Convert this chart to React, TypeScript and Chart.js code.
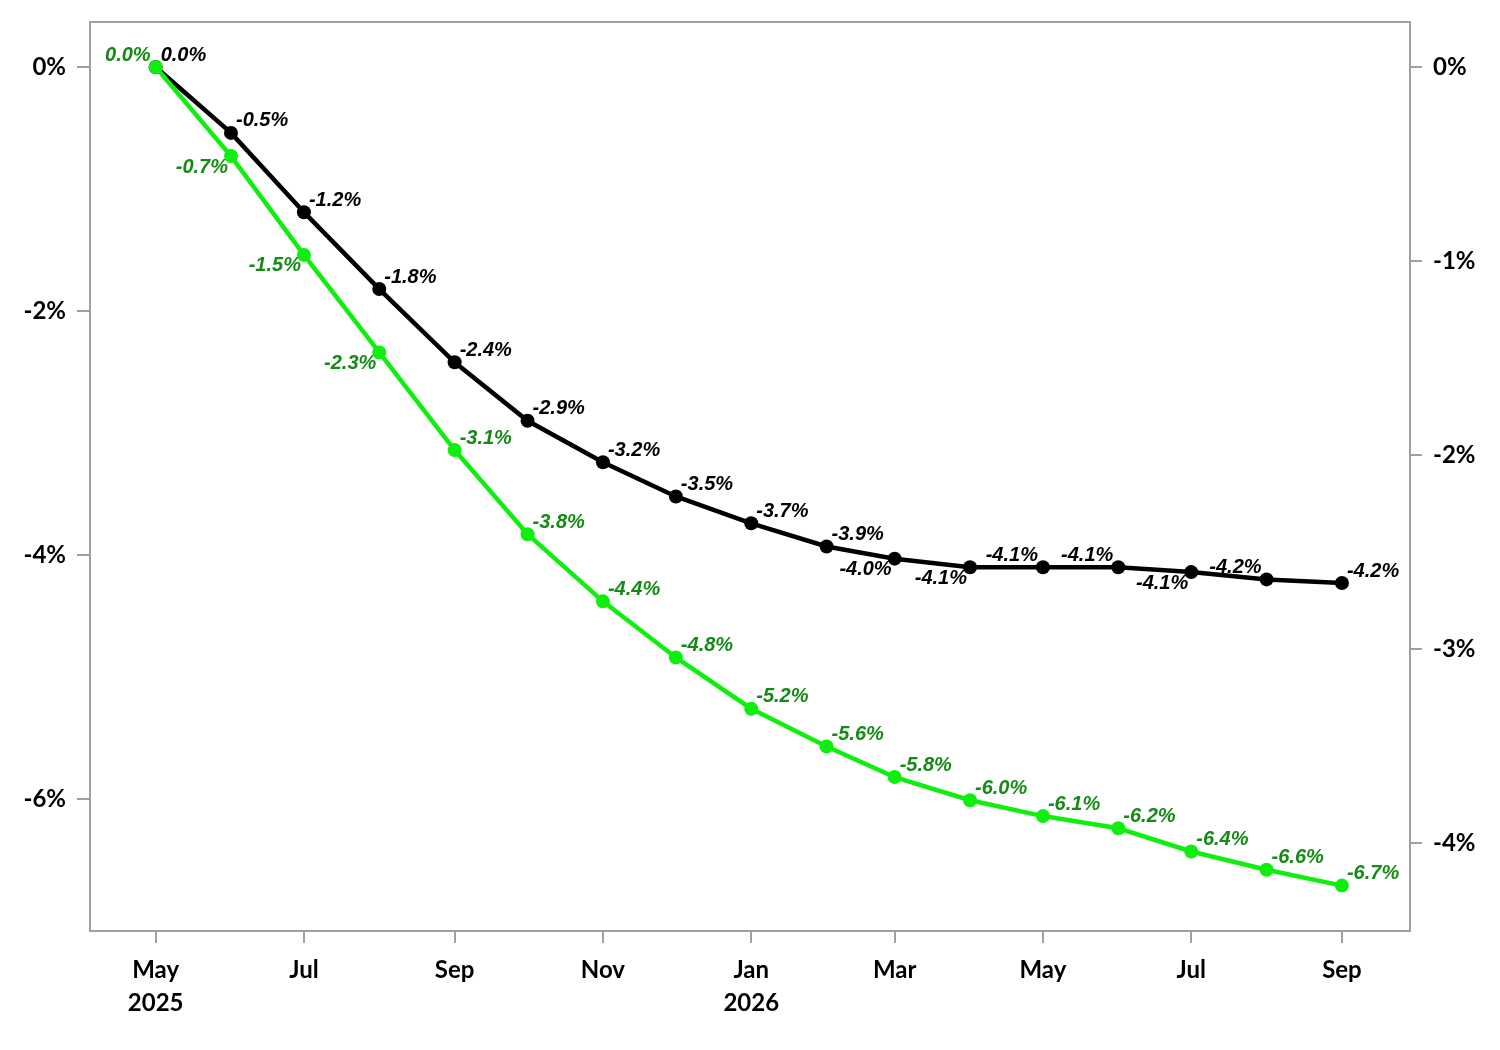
import React, { useEffect, useRef } from "react";
import { Chart, registerables } from "chart.js";

Chart.register(...registerables);

// ---- data ----
const monthDates = [
  "2025-05-01", "2025-06-01", "2025-07-01", "2025-08-01", "2025-09-01",
  "2025-10-01", "2025-11-01", "2025-12-01", "2026-01-01", "2026-02-01",
  "2026-03-01", "2026-04-01", "2026-05-01", "2026-06-01", "2026-07-01",
  "2026-08-01", "2026-09-01",
];
const greenValues = [
  0, -0.73, -1.54, -2.34, -3.14, -3.83, -4.38, -4.84, -5.26, -5.57, -5.82,
  -6.01, -6.14, -6.24, -6.43, -6.58, -6.71,
];
const greenLabels = [
  "0.0%", "-0.7%", "-1.5%", "-2.3%", "-3.1%", "-3.8%", "-4.4%", "-4.8%",
  "-5.2%", "-5.6%", "-5.8%", "-6.0%", "-6.1%", "-6.2%", "-6.4%", "-6.6%", "-6.7%",
];
const blackValues = [
  0, -0.54, -1.19, -1.82, -2.42, -2.9, -3.24, -3.52, -3.74, -3.93, -4.03,
  -4.1, -4.1, -4.1, -4.14, -4.2, -4.23,
];
const blackLabels = [
  "0.0%", "-0.5%", "-1.2%", "-1.8%", "-2.4%", "-2.9%", "-3.2%", "-3.5%",
  "-3.7%", "-3.9%", "-4.0%", "-4.1%", "-4.1%", "-4.1%", "-4.1%", "-4.2%", "-4.2%",
];
const xTickDates = [
  "2025-05-01", "2025-07-01", "2025-09-01", "2025-11-01", "2026-01-01",
  "2026-03-01", "2026-05-01", "2026-07-01", "2026-09-01",
];
const xTickLabels: (string | string[])[] = [
  ["May", "2025"], "Jul", "Sep", "Nov", ["Jan", "2026"], "Mar", "May", "Jul", "Sep",
];
const leftTicks = [0, -2, -4, -6];
const rightTicks = [0, -1, -2, -3, -4];

// label placement (style): ar = above-right, al = above-left, bl = below-left
const greenPlacement = ["al", "bl", "bl", "bl", "ar", "ar", "ar", "ar", "ar", "ar", "ar", "ar", "ar", "ar", "ar", "ar", "ar"];
const blackPlacement = ["ar", "ar", "ar", "ar", "ar", "ar", "ar", "ar", "ar", "ar", "bl", "bl", "al", "al", "bl", "al", "ar"];

const DAY = 86400000;
const origin = Date.UTC(2025, 4, 1);
const toDay = (s: string) => {
  const [y, m, d] = s.split("-").map(Number);
  return Math.round((Date.UTC(y, m - 1, d) - origin) / DAY);
};

const GREEN_LINE = "#10ee10";
const GREEN_TEXT = "#168a16";
const FRAME = "#a0a0a0";
const TICK_FONT = { family: "Lato, 'Open Sans', sans-serif", size: 24, weight: "bold" as const, lineHeight: 1.4 };

const labelPlugin = {
  id: "pointLabels",
  afterDatasetsDraw(chart: any) {
    const ctx = chart.ctx;
    ctx.save();
    ctx.font = "italic bold 20px 'Liberation Sans', Arial, sans-serif";
    ctx.textBaseline = "middle";
    chart.data.datasets.forEach((ds: any, di: number) => {
      const meta = chart.getDatasetMeta(di);
      const texts: string[] = ds.labelTexts;
      const places: string[] = ds.labelPlaces;
      ctx.fillStyle = ds.labelColor;
      meta.data.forEach((pt: any, i: number) => {
        const p = places[i];
        let x = pt.x, y = pt.y;
        if (p === "ar") { ctx.textAlign = "left"; x += 5; y -= 12; }
        else if (p === "al") { ctx.textAlign = "right"; x -= 5; y -= 12; }
        else { ctx.textAlign = "right"; x -= 3; y += 11; }
        ctx.fillText(texts[i], x, y);
      });
    });
    ctx.restore();
  },
};

const framePlugin = {
  id: "frame",
  beforeDatasetsDraw(chart: any) {
    const { ctx, chartArea: a } = chart;
    ctx.save();
    ctx.strokeStyle = FRAME;
    ctx.lineWidth = 2;
    ctx.strokeRect(a.left, a.top, a.right - a.left, a.bottom - a.top);
    ctx.restore();
  },
};

const fitV = (s: any) => { s.width = 90; s.paddingTop = 0; s.paddingBottom = 0; };
const fitX = (s: any) => { s.height = 119; s.paddingLeft = 0; s.paddingRight = 0; };

export default function App() {
  const ref = useRef<HTMLCanvasElement | null>(null);

  useEffect(() => {
    if (!ref.current) return;
    const xs = monthDates.map(toDay);
    const xt = xTickDates.map(toDay);
    const chart = new Chart(ref.current, {
      type: "line",
      data: {
        datasets: [
          {
            label: "Green",
            data: xs.map((x, i) => ({ x, y: greenValues[i] })),
            borderColor: GREEN_LINE,
            backgroundColor: GREEN_LINE,
            borderWidth: 4.5,
            pointRadius: 7,
            pointBorderWidth: 0,
            pointBackgroundColor: GREEN_LINE,
            tension: 0,
            yAxisID: "y",
            labelTexts: greenLabels,
            labelPlaces: greenPlacement,
            labelColor: GREEN_TEXT,
          } as any,
          {
            label: "Black",
            data: xs.map((x, i) => ({ x, y: blackValues[i] })),
            borderColor: "#000000",
            backgroundColor: "#000000",
            borderWidth: 4.5,
            pointRadius: 7,
            pointBorderWidth: 0,
            pointBackgroundColor: "#000000",
            tension: 0,
            yAxisID: "y",
            labelTexts: blackLabels,
            labelPlaces: blackPlacement,
            labelColor: "#000000",
          } as any,
        ],
      },
      options: {
        animation: false,
        responsive: true,
        maintainAspectRatio: false,
        layout: { padding: { top: 22, left: 0, right: 0, bottom: 0 } },
        plugins: { legend: { display: false }, tooltip: { enabled: false } },
        scales: {
          x: {
            type: "linear",
            min: -27,
            max: 516,
            afterBuildTicks: (s: any) => { s.ticks = xt.map((v) => ({ value: v })); },
            afterFit: fitX,
            grid: { display: true, drawOnChartArea: false, drawTicks: true, tickLength: 12, color: FRAME, lineWidth: 2 },
            border: { display: true, color: FRAME, width: 2 },
            ticks: {
              autoSkip: false,
              maxRotation: 0,
              padding: 10,
              color: "#000",
              font: TICK_FONT,
              callback: (v: any) => {
                const i = xt.indexOf(Number(v));
                return i >= 0 ? xTickLabels[i] : "";
              },
            },
          },
          y: {
            type: "linear",
            position: "left",
            min: -7.082,
            max: 0.369,
            afterBuildTicks: (s: any) => { s.ticks = leftTicks.map((v) => ({ value: v })); },
            afterFit: fitV,
            grid: { display: true, drawOnChartArea: false, drawTicks: true, tickLength: 13, color: FRAME, lineWidth: 2 },
            border: { display: true, color: FRAME, width: 2 },
            ticks: { padding: 11, color: "#000", font: TICK_FONT, callback: (v: any) => `${v}%` },
          },
          y2: {
            type: "linear",
            position: "right",
            min: -4.454,
            max: 0.232,
            afterBuildTicks: (s: any) => { s.ticks = rightTicks.map((v) => ({ value: v })); },
            afterFit: fitV,
            grid: { display: true, drawOnChartArea: false, drawTicks: true, tickLength: 12, color: FRAME, lineWidth: 2 },
            border: { display: true, color: FRAME, width: 2 },
            ticks: { padding: 11, color: "#000", font: TICK_FONT, callback: (v: any) => `${v}%` },
          },
        },
      },
      plugins: [framePlugin, labelPlugin],
    });
    return () => chart.destroy();
  }, []);

  return (
    <div style={{ position: "absolute", left: 0, top: 0, width: 1500, height: 1050, background: "#fff" }}>
      <canvas ref={ref} />
    </div>
  );
}
